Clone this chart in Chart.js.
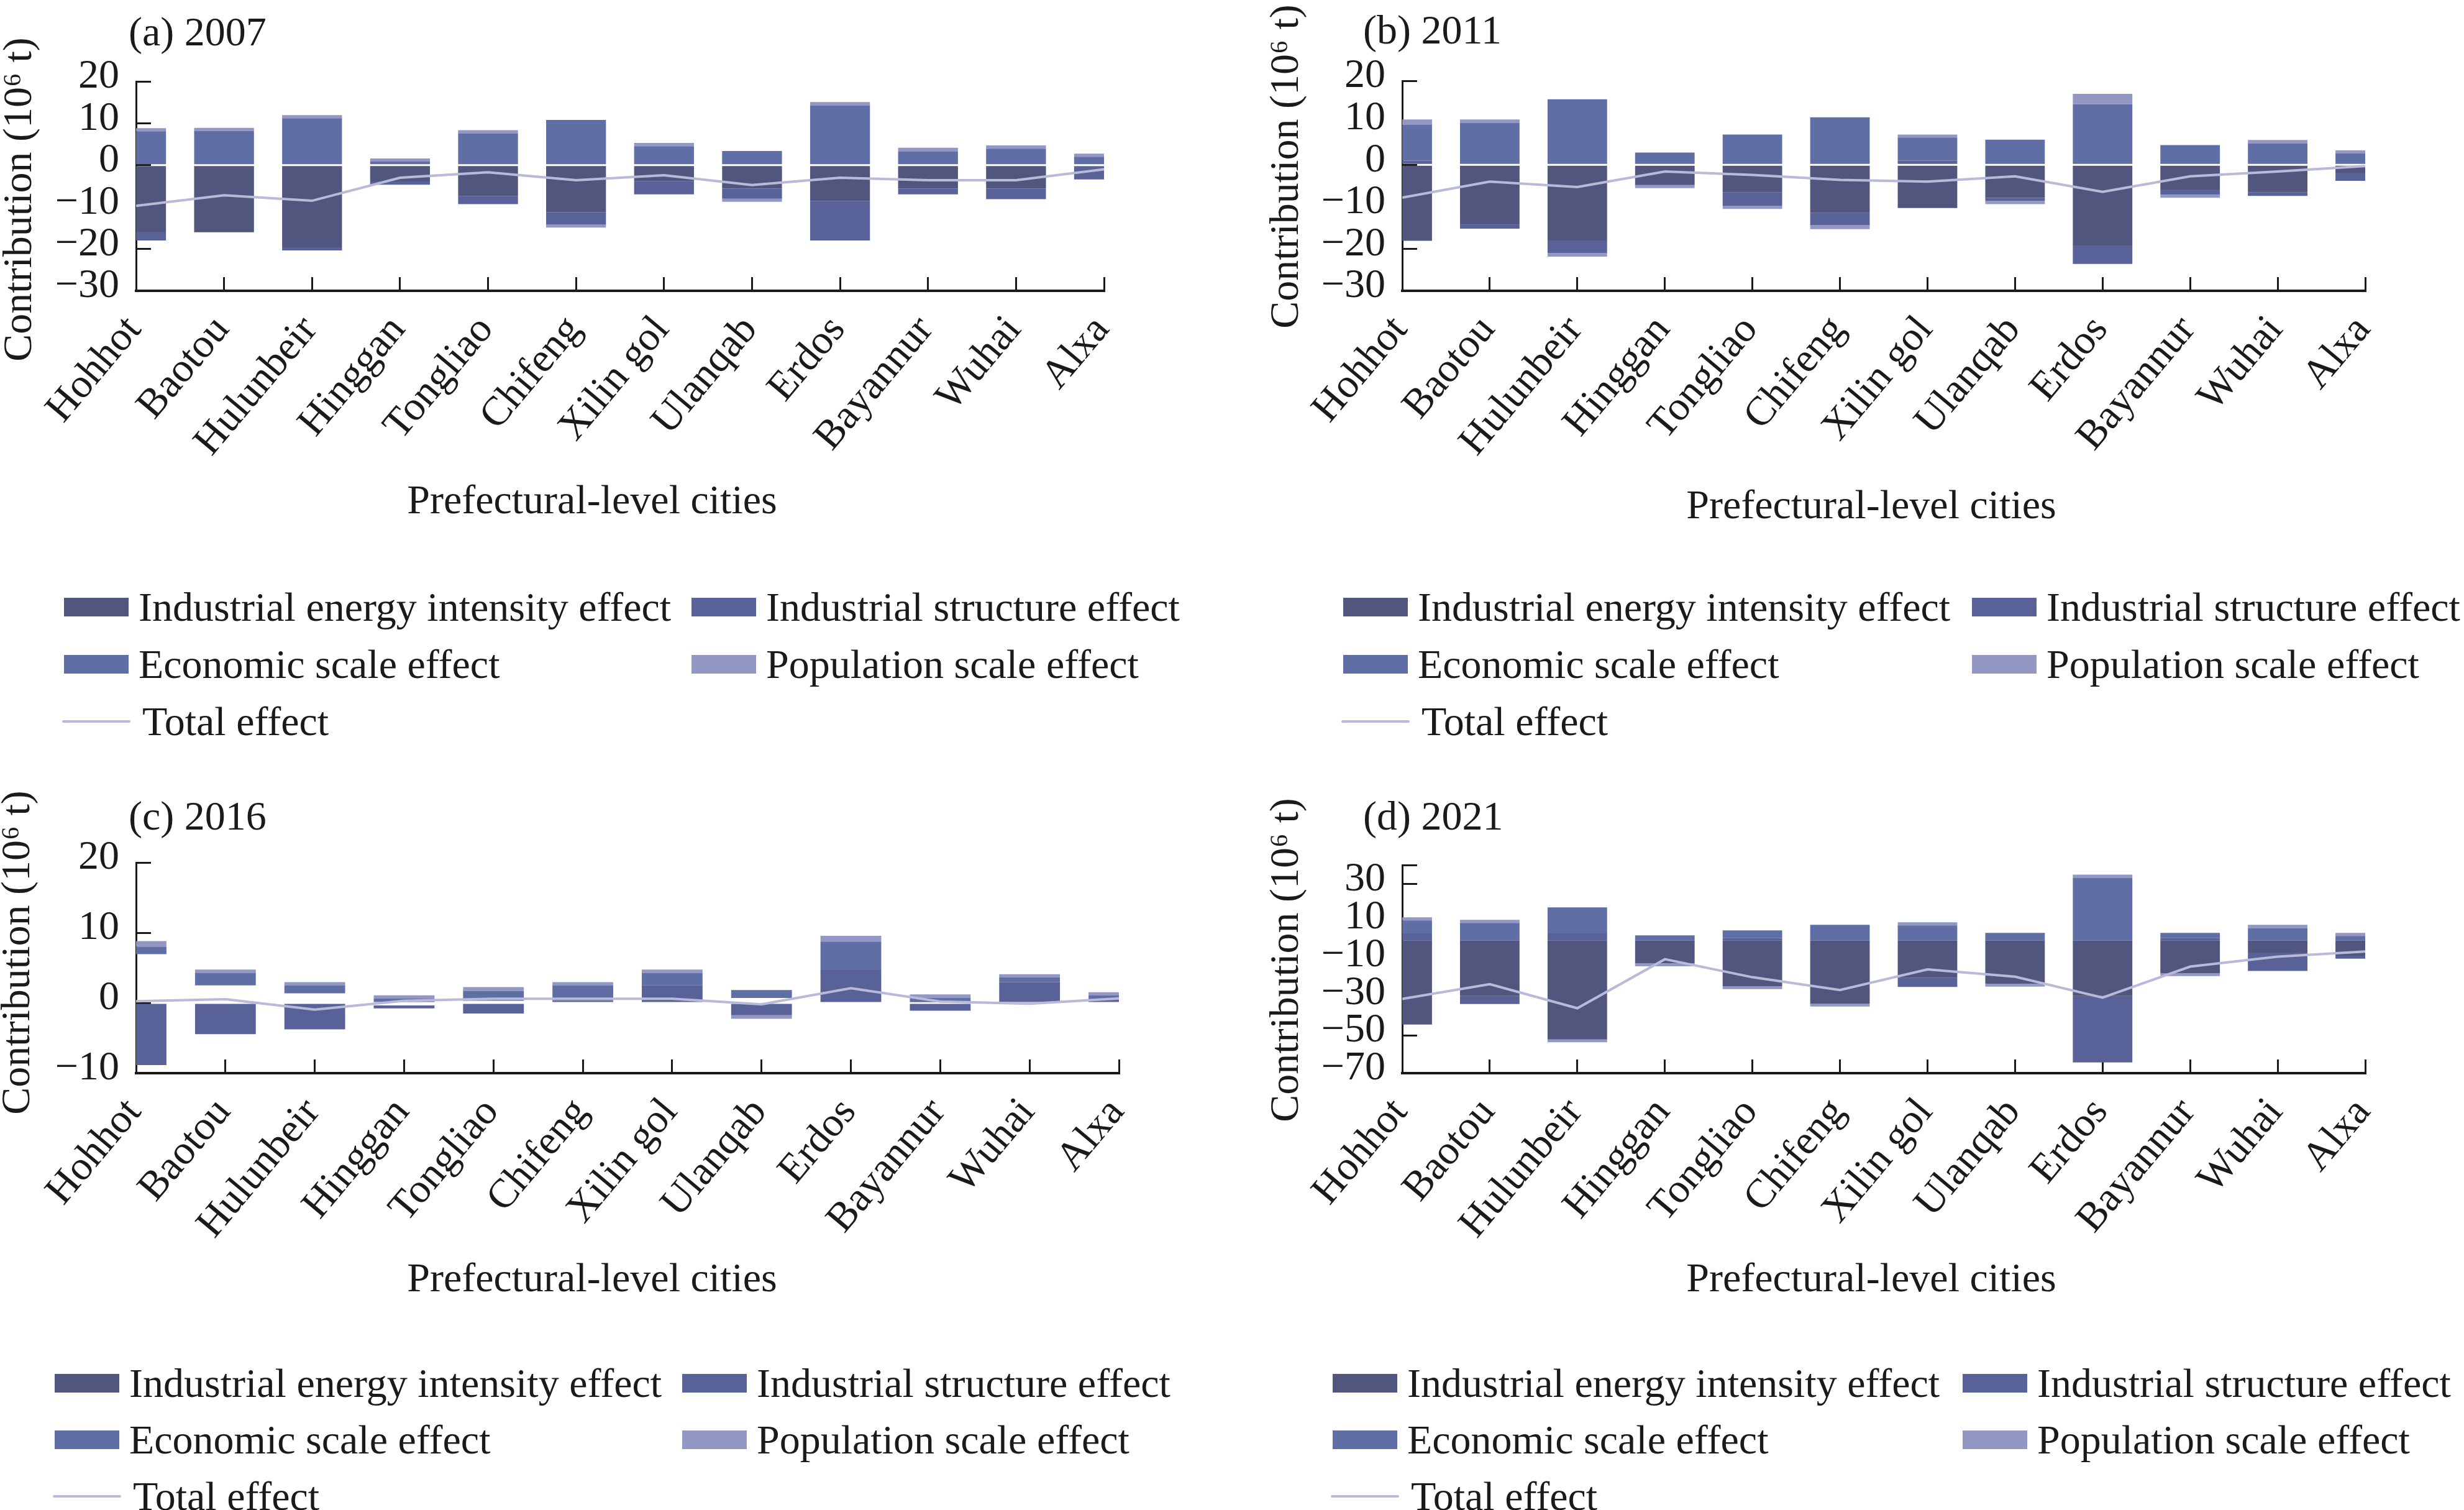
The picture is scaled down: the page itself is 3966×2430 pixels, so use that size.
<!DOCTYPE html>
<html>
<head>
<meta charset="utf-8">
<script src="https://cdn.jsdelivr.net/npm/chart.js@4.4.1/dist/chart.umd.min.js"></script>
<style>
html,body{margin:0;padding:0;background:#ffffff;}
body{width:3966px;height:2430px;position:relative;overflow:hidden;font-family:"Liberation Serif","Times New Roman",serif;color:#1a1a1a;}
canvas{position:absolute;display:block;}
.item{position:absolute;height:66px;display:flex;align-items:center;white-space:nowrap;font-size:66px;line-height:66px;}
.sw{flex:none;}
</style>
</head>
<body>
<canvas id="ca" width="1983" height="900" style="left:0px;top:0px;width:1983px;height:900px"></canvas>
<canvas id="cb" width="1930" height="900" style="left:2036px;top:0px;width:1930px;height:900px"></canvas>
<canvas id="cc" width="1983" height="900" style="left:0px;top:1262px;width:1983px;height:900px"></canvas>
<canvas id="cd" width="1930" height="900" style="left:2036px;top:1262px;width:1930px;height:900px"></canvas>
<div id="legends"></div>
<script>
// ---------------- data ----------------
const cities = ['Hohhot','Baotou','Hulunbeir','Hinggan','Tongliao','Chifeng','Xilin gol','Ulanqab','Erdos','Bayannur','Wuhai','Alxa'];
const seriesNames = ['Industrial energy intensity effect','Industrial structure effect','Economic scale effect','Population scale effect','Total effect'];
const xTitle = 'Prefectural-level cities';
const yTitle = 'Contribution (10\u2076 t)';

// (a) 2007
const energy07     = [-15.9, -16.0, -19.6, -3.9, -7.4, -11.2, -3.85, -5.6, -8.6, -5.6, -5.6, -0.3];
const structure07  = [-2.1, 0.25, -0.75, -0.75, -1.9, -3.0, -3.1, -2.4, -9.4, -1.35, -2.5, -3.1];
const economic07   = [8.1, 7.9, 11.2, 0.85, 7.6, 10.8, 4.55, 3.4, 14.3, 3.25, 3.95, 2.0];
const population07 = [0.75, 0.75, 0.75, 0.75, 0.75, -0.7, 0.75, -0.75, 0.75, 0.9, 0.75, 0.75];
const total07      = [-9.7, -7.2, -8.5, -3.0, -1.7, -3.6, -2.4, -4.75, -3.0, -3.6, -3.6, -1.0];
const yTicks07 = [20, 10, 0, -10, -20, -30];
const yLabels07 = [20, 10, 0, -10, -20, -30];

// (b) 2011
const energy11     = [-18.1, -14.3, -18.0, -4.8, -6.6, -11.4, -10.3, -7.9, -19.2, -5.9, -6.6, -1.9];
const structure11  = [1.0, -0.9, -3.0, 0, -3.2, -3.0, 1.0, -0.7, -4.4, -1.2, -0.8, -1.9];
const economic11   = [8.5, 10.0, 15.6, 2.9, 7.2, 11.3, 5.5, 6.0, 14.4, 4.7, 5.1, 2.75];
const population11 = [1.3, 0.8, -0.85, -0.75, -0.7, -0.9, 0.7, -0.75, 2.5, -0.75, 0.8, 0.7];
const total11      = [-7.8, -4.0, -5.3, -1.6, -2.4, -3.6, -4.0, -2.75, -6.45, -2.75, -1.6, -0.3];
const yTicks11 = [20, 10, 0, -10, -20, -30];
const yLabels11 = [20, 10, 0, -10, -20, -30];

// (c) 2016
const energy16     = [6.95, 2.5, 1.38, -0.36, 0.3, -2.4, -4.2, 0.7, -7.5, 0.1, -4.2, -0.9];
const structure16  = [-8.85, -4.45, -3.75, -0.42, -1.5, 0.3, 2.5, -1.75, 4.7, -1.1, 2.95, 0.5];
const economic16   = [1.05, 1.8, 1.14, 0.66, 1.41, 2.22, 1.8, 1.14, 4.05, 0.66, 0.72, 0.6];
const population16 = [0.8, 0.45, 0.45, 0.42, 0.54, 0.45, 0.45, -0.5, 0.8, 0.45, 0.42, 0.42];
const total16      = [0.24, 0.54, -0.96, 0.3, 0.6, 0.6, 0.6, -0.2, 2.1, 0.2, -0.1, 0.65];
const yTicks16 = [20, 10, 0, -10];
const yLabels16 = [20, 10, 0, -10];

// (d) 2021
const energy21     = [-44.3, -29.2, -52.2, -11.9, -24.0, -33.2, -19.7, -22.7, -29.2, -17.2, -6.3, -7.9];
const structure21  = [3.9, -4.3, 3.9, 0, 1.3, 0, -4.7, 0, -35.1, 1.3, -9.7, -1.6];
const economic21   = [6.8, 9.4, 13.7, 2.8, 4.15, 8.4, 8.1, 4.15, 33.3, 2.8, 6.55, 2.5];
const population21 = [1.6, 1.6, -1.5, -1.6, -1.6, -1.6, 1.6, -1.6, 1.6, -1.5, 1.85, 1.6];
const total21      = [-30.8, -23.0, -35.7, -9.8, -19.3, -26.1, -15.2, -19.0, -30.1, -13.7, -8.4, -5.7];
const yTicks21 = [40, 30, 10, -10, -30, -50, -70];
const yLabels21 = [30, 10, -10, -30, -50, -70];

// ---------------- styling ----------------
const FONT = '"Liberation Serif", "Times New Roman", serif';
const INK = '#1a1a1a';
const colors = ['#50567e', '#586198', '#606ea6', '#9397c3', '#b9b9d9'];

function fmt(v) { return v < 0 ? '\u2212' + Math.abs(v) : String(v); }

// panel title and axis titles, drawn at fixed spots
const panelText = {
  id: 'panelText',
  afterDraw(chart, args, o) {
    const c = chart.ctx;
    c.save();
    c.font = '66px ' + FONT;
    c.fillStyle = INK;
    c.textBaseline = 'middle';
    c.textAlign = 'left';
    c.fillText(o.title, o.titleX, o.titleY);
    c.textAlign = 'center';
    c.fillText(xTitle, o.xTitleX, o.xTitleY);
    c.translate(o.yTitleX, o.yTitleY);
    c.rotate(-Math.PI / 2);
    c.fillText(yTitle, 0, 0);
    c.restore();
  }
};

function makeChart(id, p) {
  const fills = [p.energyFill || colors[0], colors[1], colors[2], colors[3]];
  const series = [p.energy, p.structure, p.economic, p.population];
  const datasets = series.map((d, i) => ({
    type: 'bar', label: seriesNames[i], data: d,
    backgroundColor: fills[i], legendColor: colors[i],
    borderWidth: 0, barPercentage: 0.68, categoryPercentage: 1, clip: 0
  }));
  datasets.push({
    type: 'line', label: seriesNames[4], data: p.total,
    borderColor: colors[4], backgroundColor: colors[4], legendColor: colors[4],
    borderWidth: 4, pointRadius: 0, tension: 0, fill: false, order: -1, clip: 0
  });
  const chart = new Chart(document.getElementById(id), {
    type: 'bar',
    data: { labels: cities, datasets },
    plugins: [panelText],
    options: {
      responsive: false, animation: false, devicePixelRatio: 1,
      layout: { padding: { left: p.padL, right: p.padR, top: p.padT, bottom: 0 } },
      plugins: {
        legend: { display: false }, tooltip: { enabled: false },
        panelText: p.text
      },
      scales: {
        x: {
          type: 'category', offset: false, stacked: true,
          grid: { offset: false, drawOnChartArea: false, drawTicks: true, tickLength: -22, lineWidth: 3, color: INK },
          border: { display: true, width: 4, color: INK },
          ticks: { autoSkip: false, maxRotation: 50, minRotation: 50, padding: 48, labelOffset: -3,
                   font: { family: FONT, size: 66 }, color: INK },
          title: { display: false },
          afterFit(s) { s.height = p.xH; }
        },
        y: {
          type: 'linear', stacked: true, min: p.min, max: p.max,
          afterBuildTicks(s) { s.ticks = p.ticks.map(v => ({ value: v })); },
          grid: { drawOnChartArea: false, drawTicks: true, tickLength: -24, lineWidth: 3, color: INK },
          border: { display: true, width: 3, color: INK },
          ticks: { autoSkip: false, padding: 51, labelOffset: -7, font: { family: FONT, size: 66 }, color: INK,
                   callback: v => (p.labels.includes(v) ? fmt(v) : '') },
          title: { display: false },
          afterFit(s) { s.width = p.yW; }
        }
      }
    }
  });
  buildLegend(chart, p.legend);
  return chart;
}

function buildLegend(chart, L) {
  const host = document.getElementById('legends');
  chart.data.datasets.forEach((ds, i) => {
    const col = i % 2, row = Math.floor(i / 2);
    const left = col === 0 ? L.x1 : L.x2;
    const cy = L.rows[row];
    const item = document.createElement('div');
    item.className = 'item';
    item.style.left = (left - (ds.type === 'line' ? 3 : 0)) + 'px';
    item.style.top = (cy - 33) + 'px';
    const sw = document.createElement('div');
    sw.className = 'sw';
    if (ds.type === 'line') {
      sw.style.width = '110px'; sw.style.height = '4px'; sw.style.borderRadius = '2px';
      sw.style.marginRight = '19px';
    } else {
      sw.style.width = '104px'; sw.style.height = '30px'; sw.style.marginRight = '16px';
    }
    sw.style.background = ds.legendColor;
    const tx = document.createElement('span');
    tx.textContent = ds.label;
    item.appendChild(sw); item.appendChild(tx);
    host.appendChild(item);
  });
}

makeChart('ca', {
  energy: energy07, structure: structure07, economic: economic07, population: population07, total: total07,
  ticks: yTicks07, labels: yLabels07, min: -30, max: 20,
  padL: 0, yW: 219, padR: 206, padT: 131, xH: 432,
  text: { title: '(a) 2007', titleX: 207, titleY: 56, xTitleX: 953, xTitleY: 809, yTitleX: 33, yTitleY: 321 },
  legend: { x1: 103, x2: 1113, rows: [977, 1069, 1161] }
});
makeChart('cb', {
  energy: energy11, structure: structure11, economic: economic11, population: population11, total: total11,
  ticks: yTicks11, labels: yLabels11, min: -30, max: 20,
  padL: 3, yW: 218, padR: 159, padT: 130, xH: 432,
  text: { title: '(b) 2011', titleX: 158, titleY: 53, xTitleX: 976, xTitleY: 817, yTitleX: 36, yTitleY: 268 },
  legend: { x1: 2162, x2: 3174, rows: [977, 1069, 1161] }
});
makeChart('cc', {
  energy: energy16, energyFill: 'rgba(255,255,255,0)', structure: structure16, economic: economic16, population: population16, total: total16,
  ticks: yTicks16, labels: yLabels16, min: -10, max: 20,
  padL: 0, yW: 219, padR: 182, padT: 126, xH: 435,
  text: { title: '(c) 2016', titleX: 207, titleY: 56, xTitleX: 953, xTitleY: 799, yTitleX: 30, yTitleY: 271 },
  legend: { x1: 88, x2: 1098, rows: [2226, 2317, 2408] }
});
makeChart('cd', {
  energy: energy21, structure: structure21, economic: economic21, population: population21, total: total21,
  ticks: yTicks21, labels: yLabels21, min: -70, max: 40,
  padL: 3, yW: 218, padR: 159, padT: 130, xH: 435,
  text: { title: '(d) 2021', titleX: 158, titleY: 56, xTitleX: 976, xTitleY: 799, yTitleX: 36, yTitleY: 283 },
  legend: { x1: 2145, x2: 3159, rows: [2226, 2317, 2408] }
});
</script>
</body>
</html>
